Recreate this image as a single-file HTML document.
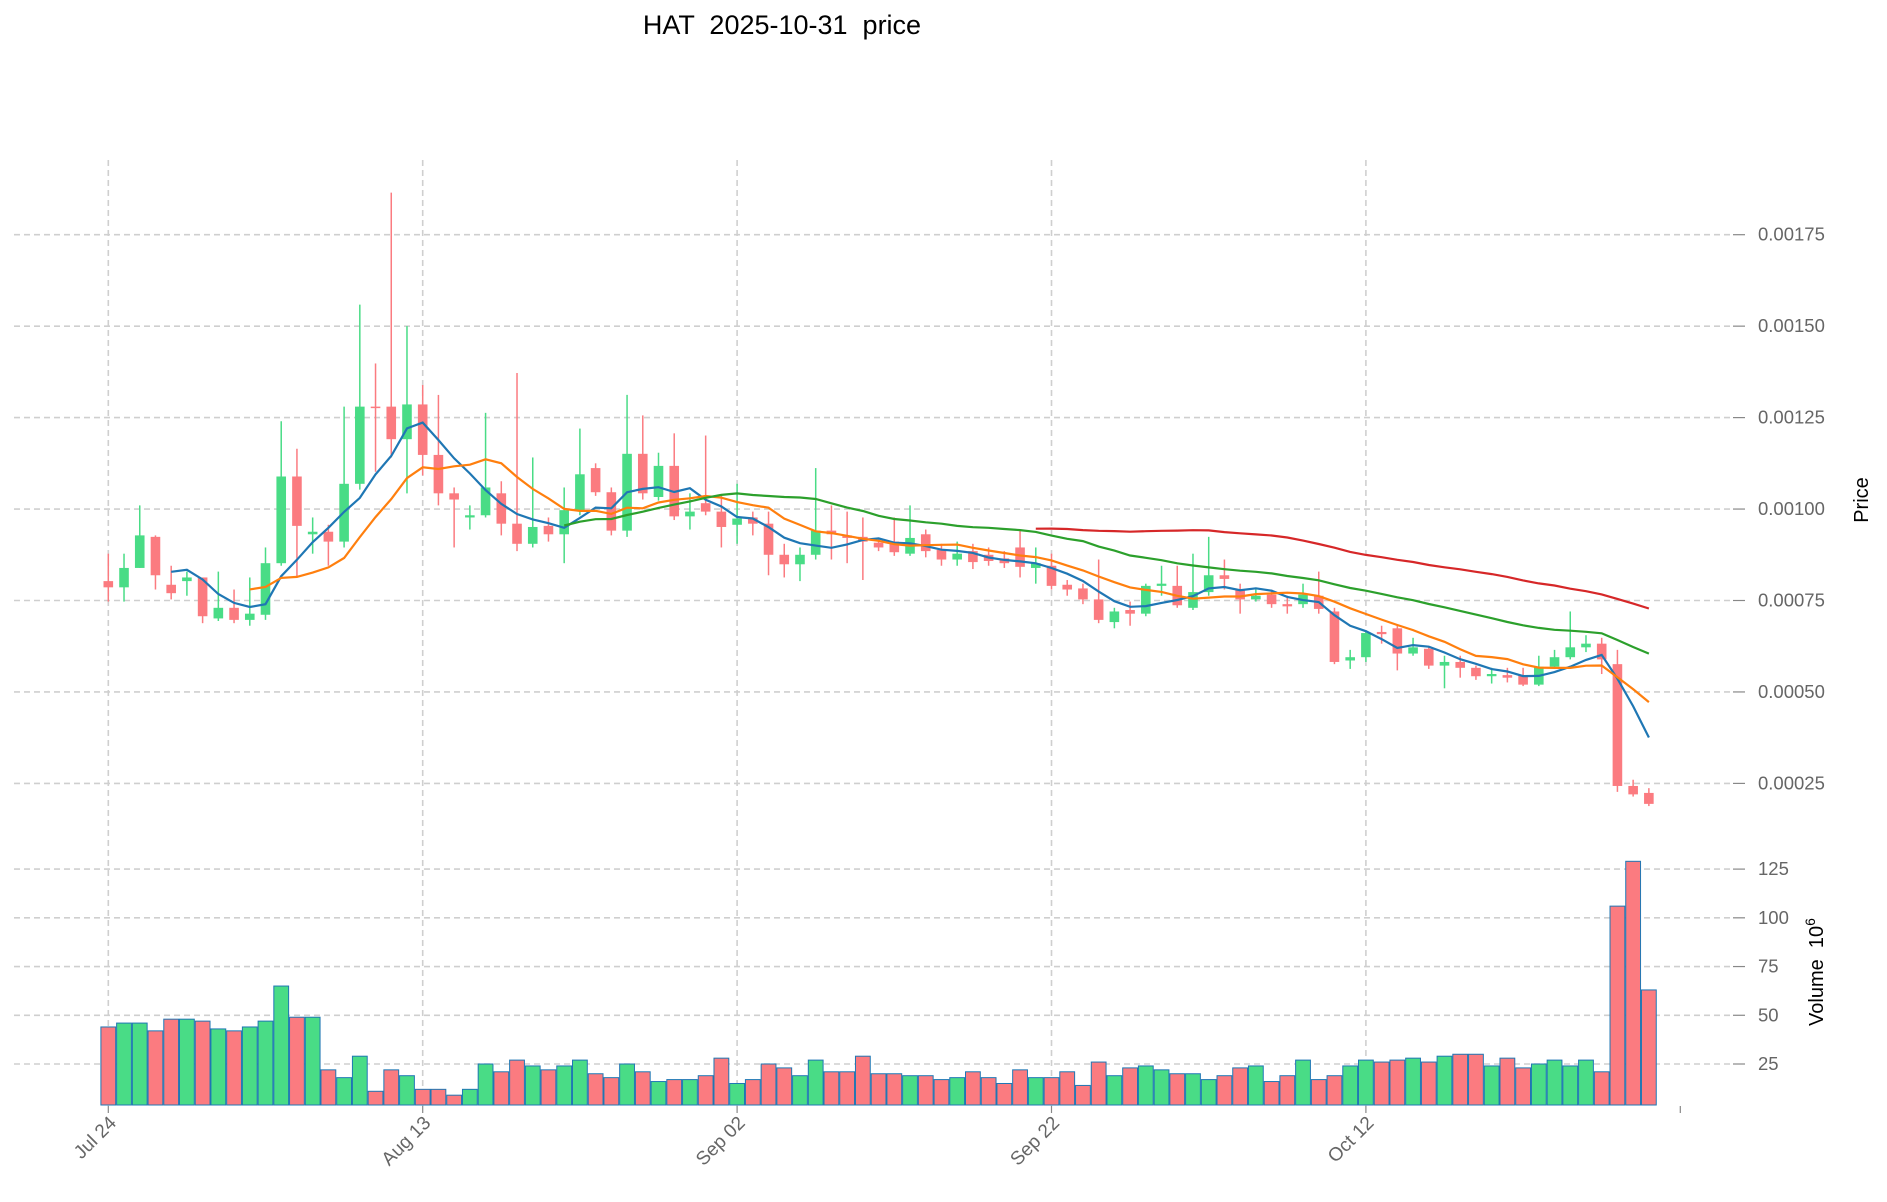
<!DOCTYPE html>
<html><head><meta charset="utf-8"><style>
html,body{margin:0;padding:0;background:#fff;}
svg{display:block;font-family:"Liberation Sans",sans-serif;}
</style></head><body>
<svg id="chart" width="1887" height="1202" viewBox="0 0 1887 1202" xmlns="http://www.w3.org/2000/svg">
<text x="782" y="34" font-size="27" text-anchor="middle" fill="#000" style="white-space:pre" xml:space="preserve">HAT  2025-10-31  price</text>
<g id="grid"></g>
<g id="vol"></g>
<g id="candles"></g>
<g id="mas"></g>
<g id="axes"></g>
<text transform="translate(1868,500) rotate(-90)" font-size="20" text-anchor="middle" fill="#000">Price</text>
<text transform="translate(1823,972) rotate(-90)" font-size="20" text-anchor="middle" fill="#000" style="white-space:pre" xml:space="preserve">Volume  10<tspan font-size="14" dy="-8">6</tspan></text>
</svg>
<script>
// prices in units of 1e-5
const opens=[80.3,78.6,83.9,92.4,79.3,80.3,81.3,70.1,73.0,69.7,71.1,85.2,108.9,93.1,93.8,91.1,106.9,128.0,128.0,119.1,128.6,114.8,104.3,97.7,98.3,104.3,96.0,90.5,95.4,93.1,99.7,111.2,104.6,94.1,115.1,103.3,111.8,98.0,101.6,99.3,95.7,97.7,96.0,87.5,84.9,87.5,94.1,92.8,92.4,90.8,91.1,87.8,93.1,88.8,86.2,88.5,87.5,86.5,89.5,83.9,84.5,79.3,78.3,75.3,69.1,72.4,71.4,79.0,79.0,73.0,77.3,81.9,78.0,75.3,76.6,74.0,74.0,76.3,72.0,58.6,59.5,66.4,67.4,60.5,61.8,57.2,58.2,56.6,54.3,54.6,54.6,52.0,56.9,59.5,62.2,63.2,57.6,24.3,22.4];
const closes=[78.6,83.9,92.8,81.9,77.0,81.3,70.7,73.0,69.7,71.4,85.2,108.9,95.4,93.8,91.1,106.9,128.0,127.6,119.1,128.6,114.8,104.3,102.6,98.3,105.9,96.0,90.5,95.1,93.1,99.7,109.5,104.6,94.1,115.1,104.3,111.8,98.0,99.3,99.3,95.1,97.4,96.0,87.5,84.9,87.5,94.1,93.1,92.1,91.1,89.5,88.2,92.1,88.5,86.2,87.8,85.5,85.8,85.2,84.2,85.2,79.0,78.0,75.3,69.7,72.0,71.4,79.0,79.6,73.7,77.3,81.9,80.9,75.3,76.3,74.0,73.4,76.6,72.7,58.2,59.5,66.1,65.8,60.5,62.2,57.2,58.2,56.6,54.3,54.9,53.9,52.0,56.9,59.5,62.2,63.2,58.9,24.3,22.0,19.4];
const highs=[87.8,87.8,101.0,92.8,84.5,82.9,81.3,82.9,78.0,81.3,89.5,124.0,116.5,97.7,95.7,128.0,155.9,139.8,186.5,150.0,133.9,131.2,105.9,101.0,126.3,107.6,137.2,114.1,97.7,105.9,122.0,112.5,105.9,131.2,125.6,115.4,120.7,104.3,120.1,103.6,106.9,99.3,99.3,90.5,89.5,111.2,101.0,99.3,97.7,92.1,97.7,101.0,94.4,90.5,91.1,90.5,89.5,88.5,94.4,89.5,87.8,80.6,79.6,86.2,73.0,74.7,79.6,84.5,84.5,87.8,92.4,86.2,79.6,78.0,78.0,76.3,79.6,82.9,73.0,61.5,66.8,68.1,68.1,64.8,62.5,59.9,59.9,57.2,56.6,56.6,56.6,59.9,61.5,72.0,65.5,64.8,61.5,26.0,23.7];
const lows=[74.7,74.7,83.9,78.0,75.3,76.3,68.8,69.4,68.8,68.1,69.7,84.5,81.3,87.8,84.5,89.5,105.3,110.2,114.1,104.3,109.2,101.0,89.5,94.4,97.7,92.8,88.5,89.5,91.1,85.2,98.3,103.6,92.8,92.4,102.6,102.3,97.0,94.4,98.3,89.5,90.5,92.8,81.9,81.3,80.3,86.2,86.2,85.2,80.6,88.5,87.2,87.2,86.8,84.5,84.5,83.6,84.5,83.9,81.3,79.6,78.0,76.3,74.0,68.8,67.4,68.1,70.7,76.3,73.0,72.4,76.3,78.0,71.4,74.7,73.0,71.4,73.0,71.4,57.6,56.3,58.2,63.2,55.9,59.9,56.3,51.0,53.9,53.3,52.3,52.6,51.6,51.6,56.3,58.9,60.9,54.9,22.7,21.4,18.8];
const volumes=[44,46,46,42,48,48,47,43,42,44,47,65,49,49,22,18,29,11,22,19,12,12,9,12,25,21,27,24,22,24,27,20,18,25,21,16,17,17,19,28,15,17,25,23,19,27,21,21,29,20,20,19,19,17,18,21,18,15,22,18,18,21,14,26,19,23,24,22,20,20,17,19,23,24,16,19,27,17,19,24,27,26,27,28,26,29,30,30,24,28,23,25,27,24,27,21,106,129,63];
const priceTicks=[25,50,75,100,125,150,175];
const priceTickLabels=["0.00025","0.00050","0.00075","0.00100","0.00125","0.00150","0.00175"];
const volTicks=[25,50,75,100,125];
const dateTickIdx=[0,20,40,60,80];
const dateTickLabels=["Jul 24","Aug 13","Sep 02","Sep 22","Oct 12"];
const maPeriods=[5,10,30,60];
const maColors=["#1f77b4","#ff7f0e","#2ca02c","#d62728"];

const NS="http://www.w3.org/2000/svg";
const X=i=>108.3+i*15.72;
const Y=p=>783.4-(p-25)*3.658;
const VY=v=>1064-(v-25)*1.949;
const VBASE=1105;
function mk(tag,attrs,parent){const e=document.createElementNS(NS,tag);for(const k in attrs)e.setAttribute(k,attrs[k]);parent.appendChild(e);return e;}
const grid=document.getElementById('grid'),vol=document.getElementById('vol'),cg=document.getElementById('candles'),mg=document.getElementById('mas'),ax=document.getElementById('axes');
const RED="#fb7b80",GREEN="#49dc86";

priceTicks.forEach((t,k)=>{
  const y=Y(t);
  const l=mk('line',{x1:14,x2:1733,y1:y,y2:y,stroke:"#cfcfcf","stroke-width":1.6,"stroke-dasharray":"6,4"},grid);
  
  
  mk('line',{x1:1733,x2:1745,y1:y,y2:y,stroke:"#888","stroke-width":1.2},ax);
  const tx=mk('text',{x:1758,y:y+6,"font-size":18.5,fill:"#666"},ax);
  tx.textContent=priceTickLabels[k];
  
  
});
volTicks.forEach(t=>{
  const y=VY(t);
  const l=mk('line',{x1:14,x2:1733,y1:y,y2:y,stroke:"#cfcfcf","stroke-width":1.6,"stroke-dasharray":"6,4"},grid);
  
  
  mk('line',{x1:1733,x2:1745,y1:y,y2:y,stroke:"#888","stroke-width":1.2},ax);
  const tx=mk('text',{x:1758,y:y+6,"font-size":18.5,fill:"#666"},ax);
  tx.textContent=String(t);
  
  
});
dateTickIdx.forEach((i,k)=>{
  const x=X(i);
  const l=mk('line',{x1:x,x2:x,y1:160,y2:1110,stroke:"#cfcfcf","stroke-width":1.6,"stroke-dasharray":"6,4"},grid);
  
  
  mk('line',{x1:x,x2:x,y1:1106,y2:1113,stroke:"#888","stroke-width":1.2},ax);
  const tx=mk('text',{"font-size":19,fill:"#666","text-anchor":"end",transform:`translate(${x+9},1124) rotate(-45)`},ax);
  tx.textContent=dateTickLabels[k];
  
  
});
mk('line',{x1:X(100),x2:X(100),y1:1106,y2:1113,stroke:"#888","stroke-width":1.2},ax);

volumes.forEach((v,i)=>{
  const up=closes[i]>=opens[i];
  const y=Math.max(VY(v),850);
  const r=mk('rect',{x:X(i)-7.4,y:y,width:14.8,height:VBASE-y,fill:up?GREEN:RED,stroke:"#1f77b4","stroke-width":1},vol);
  
  
});
opens.forEach((o,i)=>{
  const c=closes[i],up=c>=o,col=up?GREEN:RED,x=X(i);
  const w=mk('line',{x1:x,x2:x,y1:Y(highs[i]),y2:Y(lows[i]),stroke:col,"stroke-width":1.5},cg);
  
  
  const top=Y(Math.max(o,c)),bot=Y(Math.min(o,c));
  const b=mk('rect',{x:x-4.8,y:top,width:9.6,height:Math.max(bot-top,1.5),fill:col},cg);
  
  
});
maPeriods.forEach((n,k)=>{
  let pts=[];
  for(let i=n-1;i<closes.length;i++){let s=0;for(let j=i-n+1;j<=i;j++)s+=closes[j];pts.push(X(i).toFixed(1)+','+Y(s/n).toFixed(1));}
  const p=mk('polyline',{points:pts.join(' '),fill:"none",stroke:maColors[k],"stroke-width":2.2},mg);
  
  
});
</script>
</body></html>
